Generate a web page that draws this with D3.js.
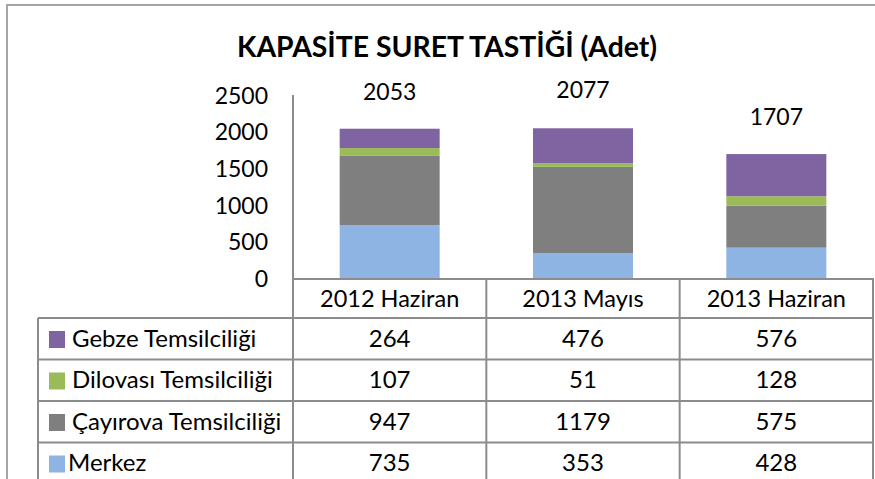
<!DOCTYPE html>
<html>
<head>
<meta charset="utf-8">
<title>Kapasite</title>
<style>
  body { margin: 0; background: #fff; }
  svg text { font-family: Lato, "Noto Sans", sans-serif; fill: #000; }
</style>
</head>
<body>
<script src="https://cdnjs.cloudflare.com/ajax/libs/d3/7.8.5/d3.min.js"></script>
<script>
var categories = ["2012 Haziran", "2013 Mayıs", "2013 Haziran"];
var seriesNames = ["Merkez", "Çayırova Temsilciliği", "Dilovası Temsilciliği", "Gebze Temsilciliği"];
var merkez = [735, 353, 428];
var cayirova = [947, 1179, 575];
var dilovasi = [107, 51, 128];
var gebze = [264, 476, 576];
var totals = [2053, 2077, 1707];
var yTicks = [0, 500, 1000, 1500, 2000, 2500];
var colors = ["#8EB4E3", "#7F7F7F", "#9BBB59", "#8064A2"];

var w = 875, h = 479;
var svg = d3.select("body").append("svg").attr("width", w).attr("height", h);

// table rows (top to bottom = reverse of stack order)
var seriesValues = [merkez, cayirova, dilovasi, gebze];
var rows = d3.range(seriesNames.length).reverse().map(function(i) {
    return { name: seriesNames[i], values: seriesValues[i], color: colors[i] };
});

var stackData = categories.map(function(c, j) {
    var o = { cat: c };
    seriesNames.forEach(function(s, i) { o[s] = seriesValues[i][j]; });
    return o;
});
var stacked = d3.stack().keys(seriesNames)(stackData);

var x = d3.scaleBand().domain(categories).range([293, 873]).padding(0);
var y = d3.scaleLinear().domain([0, 2500]).range([279, 96]);

// outer frame
svg.append("path")
    .attr("d", "M7," + h + "V5H" + w)
    .attr("fill", "none").attr("stroke", "#a6a6a6").attr("stroke-width", 2);

// title
svg.append("text")
    .attr("x", 447).attr("y", 57)
    .attr("text-anchor", "middle")
    .attr("font-weight", "bold").attr("font-size", 28)
    .attr("textLength", 420).attr("lengthAdjust", "spacingAndGlyphs")
    .text("KAPASİTE SURET TASTİĞİ (Adet)");

// y axis
var yAxis = svg.append("g")
    .attr("transform", "translate(293,0)")
    .call(d3.axisLeft(y).tickValues(yTicks).tickSize(0).tickPadding(25).tickFormat(d3.format("d")));
yAxis.select(".domain").remove();
yAxis.selectAll("text").attr("font-size", 23).attr("font-family", "Lato, sans-serif").attr("fill", "#000");

// bars
var barW = 100;
svg.append("g").selectAll("g")
    .data(stacked)
    .enter().append("g")
    .attr("fill", function(d, i) { return colors[i]; })
    .selectAll("rect")
    .data(function(d) { return d; })
    .enter().append("rect")
    .attr("x", function(d) { return x(d.data.cat) + x.bandwidth() / 2 - barW / 2; })
    .attr("y", function(d) { return y(d[1]); })
    .attr("width", barW)
    .attr("height", function(d) { return y(d[0]) - y(d[1]); });

// total labels
svg.append("g").selectAll("text")
    .data(totals)
    .enter().append("text")
    .attr("x", function(d, i) { return x(categories[i]) + x.bandwidth() / 2; })
    .attr("y", function(d) { return y(d) - 29; })
    .attr("text-anchor", "middle")
    .attr("font-size", 23)
    .text(function(d) { return d; });

// data table grid
var rowTop = 318, rowH = 41.5, tableLeft = 38;
var grid = svg.append("g").attr("stroke", "#8c8c8c").attr("stroke-width", 2).attr("fill", "none");
grid.append("line").attr("x1", 293).attr("x2", 293).attr("y1", y(2500) - 1).attr("y2", h);
grid.append("line").attr("x1", 293).attr("x2", 874).attr("y1", y(0)).attr("y2", y(0));
categories.forEach(function(c) {
    var xr = x(c) + x.bandwidth();
    grid.append("line").attr("x1", xr).attr("x2", xr).attr("y1", y(0)).attr("y2", h);
});
grid.append("line").attr("x1", tableLeft).attr("x2", tableLeft).attr("y1", rowTop).attr("y2", h);
d3.range(rows.length).forEach(function(r) {
    var yy = rowTop + r * rowH;
    grid.append("line").attr("x1", tableLeft).attr("x2", 874).attr("y1", yy).attr("y2", yy);
});

// category header
svg.append("g").selectAll("text")
    .data(categories)
    .enter().append("text")
    .attr("x", function(d) { return x(d) + x.bandwidth() / 2; })
    .attr("y", (y(0) + rowTop) / 2 + 8)
    .attr("text-anchor", "middle")
    .attr("font-size", 23.5)
    .text(function(d) { return d; });

// rows
var rowG = svg.append("g").selectAll("g")
    .data(rows)
    .enter().append("g")
    .attr("transform", function(d, i) { return "translate(0," + (rowTop + i * rowH) + ")"; });

rowG.append("rect")
    .attr("x", 49).attr("y", 13).attr("width", 16).attr("height", 17)
    .attr("fill", function(d) { return d.color; });

rowG.append("text")
    .attr("x", function(d) { return d.name === "Merkez" ? 68 : 72; })
    .attr("y", rowH / 2 + 8)
    .attr("font-size", 24)
    .text(function(d) { return d.name; });

rowG.selectAll("text.v")
    .data(function(d) { return d.values; })
    .enter().append("text")
    .attr("class", "v")
    .attr("x", function(d, j) { return x(categories[j]) + x.bandwidth() / 2; })
    .attr("y", rowH / 2 + 8)
    .attr("text-anchor", "middle")
    .attr("font-size", 24)
    .text(function(d) { return d; });
</script>
</body>
</html>
